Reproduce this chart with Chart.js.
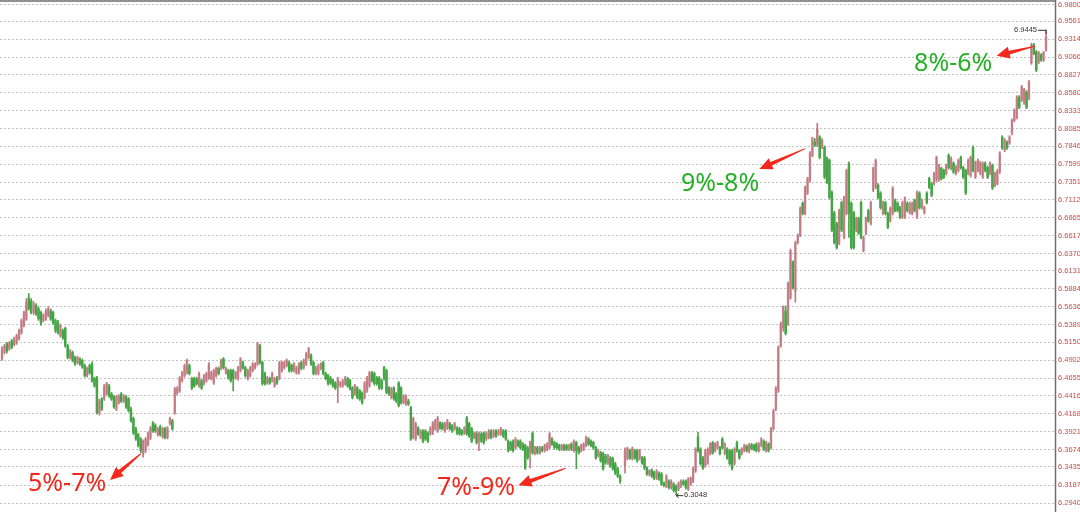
<!DOCTYPE html>
<html>
<head>
<meta charset="utf-8">
<script src="https://cdn.jsdelivr.net/npm/chart.js@4.4.1/dist/chart.umd.min.js"></script>
<style>
  html, body { margin: 0; padding: 0; background: #fff; }
  #wrap { width: 1080px; height: 512px; position: relative; }
</style>
</head>
<body>
<div id="wrap"><canvas id="c"></canvas></div>
<script>
// tick labels printed on the right axis
var yTicks = [6.9800, 6.9561, 6.9314, 6.9066, 6.8827, 6.8580, 6.8333, 6.8085, 6.7846, 6.7599,
              6.7351, 6.7112, 6.6865, 6.6617, 6.6370, 6.6131, 6.5884, 6.5636, 6.5389, 6.5150,
              6.4902, 6.4655, 6.4416, 6.4168, 6.3921, 6.3674, 6.3435, 6.3187, 6.2940]

// daily candles, [open, high, low, close]; null marks the holiday gap
var ohlcA = [
  [6.492,6.509,6.490,6.506],[6.501,6.512,6.499,6.510],[6.513,6.515,6.500,6.503],[6.506,6.516,6.504,6.514],
  [6.517,6.519,6.506,6.508],[6.512,6.522,6.510,6.520],[6.514,6.526,6.512,6.524],[6.520,6.533,6.518,6.531],
  [6.528,6.547,6.526,6.545],[6.538,6.558,6.536,6.556],[6.547,6.575,6.545,6.570],[6.576,6.582,6.559,6.561],
  [6.572,6.575,6.554,6.556],[6.556,6.571,6.553,6.568],[6.565,6.568,6.552,6.554],[6.561,6.564,6.545,6.547],
  [6.556,6.558,6.538,6.541],[6.545,6.554,6.543,6.552],[6.547,6.561,6.545,6.558],[6.552,6.564,6.550,6.561],
  [6.558,6.561,6.545,6.547],[6.556,6.558,6.540,6.542],[6.545,6.547,6.528,6.531],[6.542,6.545,6.526,6.528],
  [6.524,6.540,6.522,6.538],[6.531,6.533,6.519,6.521],[6.534,6.536,6.508,6.510],[6.510,6.512,6.492,6.494],
  [6.494,6.505,6.492,6.503],[6.501,6.503,6.488,6.490],[6.494,6.496,6.483,6.485],[6.487,6.496,6.485,6.494],
  [6.492,6.494,6.483,6.485],[6.490,6.492,6.479,6.481],[6.483,6.485,6.467,6.469],[6.469,6.481,6.467,6.479],
  [6.483,6.485,6.471,6.473],[6.485,6.488,6.460,6.462],[6.465,6.467,6.453,6.455],[6.466,6.468,6.416,6.418],
  [6.418,6.437,6.415,6.435],[6.437,6.439,6.421,6.423],[6.437,6.457,6.435,6.455],[6.444,6.460,6.442,6.458],
  [6.455,6.457,6.439,6.441],[6.444,6.446,6.435,6.437],[6.440,6.442,6.424,6.426],[6.423,6.442,6.421,6.440],
  [6.432,6.443,6.430,6.441],[6.444,6.446,6.432,6.434],[6.434,6.443,6.432,6.441],[6.440,6.442,6.424,6.426],
  [6.437,6.439,6.419,6.421],[6.423,6.426,6.405,6.407],[6.410,6.412,6.388,6.390],[6.396,6.398,6.380,6.382],
  [6.388,6.390,6.371,6.373],[6.382,6.384,6.363,6.366],[6.361,6.381,6.357,6.379],[6.366,6.384,6.363,6.382],
  [6.374,6.392,6.372,6.390],[6.383,6.399,6.381,6.397],[6.404,6.406,6.391,6.393],[6.401,6.403,6.391,6.393],
  [6.388,6.398,6.386,6.396],[6.399,6.401,6.386,6.388],[6.385,6.398,6.383,6.396],[6.396,6.398,6.382,6.384],
  [6.384,6.399,6.382,6.397],[6.403,6.412,6.401,6.410],[6.407,6.409,6.394,6.396],[6.418,6.453,6.416,6.451],
  [6.445,6.454,6.443,6.452],[6.448,6.468,6.446,6.466],[6.462,6.475,6.460,6.473],[6.469,6.485,6.467,6.483],
  [6.473,6.492,6.471,6.490],[6.483,6.485,6.470,6.472],[6.465,6.467,6.450,6.452],[6.465,6.467,6.453,6.455]
]
var ohlcB = [
  [6.465,6.467,6.456,6.458],[6.455,6.474,6.453,6.472],[6.462,6.464,6.450,6.452],[6.458,6.471,6.456,6.469],
  [6.462,6.474,6.460,6.472],[6.466,6.487,6.464,6.485],[6.465,6.475,6.463,6.473],[6.459,6.478,6.457,6.476],
  [6.469,6.481,6.467,6.479],[6.479,6.481,6.470,6.472],[6.479,6.492,6.477,6.490],[6.492,6.494,6.478,6.480],
  [6.473,6.481,6.471,6.479],[6.476,6.478,6.464,6.466],[6.476,6.478,6.460,6.462],[6.476,6.478,6.448,6.465],
  [6.466,6.475,6.464,6.473],[6.465,6.482,6.463,6.480],[6.476,6.494,6.474,6.492],[6.487,6.489,6.478,6.480],
  [6.480,6.482,6.467,6.469],[6.465,6.478,6.463,6.476],[6.469,6.482,6.467,6.480],[6.476,6.487,6.474,6.485],
  [6.480,6.487,6.478,6.485],[6.485,6.515,6.483,6.513],[6.510,6.512,6.485,6.487],[6.487,6.489,6.456,6.458],
  [6.472,6.474,6.456,6.458],[6.459,6.468,6.457,6.466],[6.465,6.467,6.457,6.459],[6.462,6.474,6.460,6.472],
  [6.455,6.467,6.453,6.465],[6.466,6.468,6.457,6.459],[6.465,6.489,6.463,6.487],[6.476,6.489,6.474,6.487],
  [6.480,6.489,6.478,6.487],[6.483,6.492,6.481,6.490],[6.487,6.489,6.474,6.476],[6.483,6.485,6.474,6.476],
  [6.476,6.487,6.474,6.485],[6.473,6.482,6.471,6.480],[6.473,6.487,6.471,6.485],[6.487,6.489,6.477,6.479],
  [6.480,6.492,6.478,6.490],[6.485,6.501,6.483,6.499],[6.494,6.508,6.492,6.506],[6.497,6.499,6.483,6.485],
  [6.487,6.489,6.470,6.472],[6.472,6.482,6.470,6.480],[6.472,6.485,6.470,6.483],[6.479,6.487,6.477,6.485],
  [6.487,6.489,6.470,6.472],[6.472,6.474,6.463,6.465],[6.469,6.471,6.456,6.458],[6.466,6.468,6.457,6.459],
  [6.462,6.464,6.453,6.455],[6.459,6.461,6.450,6.452],[6.455,6.467,6.432,6.465],[6.455,6.461,6.453,6.459],
  [6.455,6.464,6.453,6.462],[6.458,6.468,6.456,6.466],[6.465,6.467,6.453,6.455],[6.462,6.464,6.449,6.451],
  [6.452,6.454,6.437,6.439],[6.444,6.457,6.442,6.455],[6.452,6.454,6.437,6.439],[6.448,6.450,6.435,6.437],
  [6.445,6.447,6.430,6.432],[6.439,6.461,6.437,6.459],[6.448,6.468,6.446,6.466],[6.455,6.475,6.453,6.473],
  [6.473,6.475,6.460,6.462],[6.472,6.474,6.456,6.458],[6.466,6.468,6.456,6.458],[6.466,6.468,6.450,6.452],
  [6.462,6.464,6.450,6.452],[6.480,6.482,6.463,6.465],[6.476,6.478,6.444,6.446],[6.452,6.454,6.442,6.444],
  [6.439,6.453,6.437,6.451],[6.452,6.454,6.435,6.437],[6.444,6.446,6.432,6.434],[6.459,6.461,6.426,6.428],
  [6.452,6.454,6.430,6.432],[6.432,6.443,6.430,6.441],[6.430,6.443,6.428,6.441],[6.434,6.437,6.428,6.430]
]
var ohlcC = [
  [6.425,6.427,6.380,6.382],[6.384,6.412,6.382,6.410],[6.382,6.405,6.380,6.403],[6.397,6.399,6.387,6.389],
  [6.384,6.395,6.382,6.393],[6.393,6.395,6.377,6.379],[6.393,6.395,6.380,6.382],[6.390,6.392,6.377,6.379],
  [6.389,6.399,6.387,6.397],[6.390,6.406,6.388,6.404],[6.396,6.409,6.394,6.407],[6.393,6.413,6.391,6.411],
  [6.404,6.406,6.395,6.397],[6.403,6.405,6.394,6.396],[6.393,6.405,6.391,6.403],[6.397,6.409,6.395,6.407],
  [6.403,6.405,6.394,6.396],[6.400,6.402,6.391,6.393],[6.396,6.405,6.394,6.403],[6.397,6.399,6.388,6.390],
  [6.396,6.398,6.387,6.389],[6.393,6.395,6.387,6.389],[6.390,6.399,6.388,6.397],[6.411,6.413,6.387,6.389],
  [6.403,6.405,6.384,6.386],[6.396,6.398,6.377,6.379],[6.384,6.392,6.382,6.390],[6.390,6.392,6.375,6.377],
  [6.379,6.392,6.366,6.390],[6.389,6.391,6.377,6.379],[6.390,6.392,6.375,6.377],[6.382,6.392,6.380,6.390],
  [6.384,6.395,6.382,6.393],[6.393,6.395,6.382,6.384],[6.386,6.395,6.384,6.393],[6.393,6.395,6.384,6.386],
  [6.389,6.395,6.387,6.393],[6.389,6.398,6.387,6.396],[6.393,6.395,6.384,6.386],[6.393,6.395,6.380,6.382],
  [6.379,6.381,6.364,6.366],[6.377,6.379,6.366,6.368],[6.379,6.381,6.364,6.366],[6.370,6.384,6.368,6.382],
  [6.379,6.381,6.371,6.373],[6.379,6.381,6.368,6.370],[6.375,6.377,6.366,6.368],[6.373,6.375,6.340,6.342],
  [6.370,6.372,6.354,6.356],[6.363,6.379,6.342,6.377],[6.390,6.392,6.361,6.363],[6.362,6.372,6.360,6.370],
  [6.370,6.372,6.361,6.363],[6.363,6.372,6.361,6.370],[6.370,6.372,6.364,6.366],[6.366,6.375,6.364,6.373],
  [6.368,6.377,6.366,6.375],[6.370,6.391,6.368,6.389],[6.382,6.384,6.373,6.375],[6.377,6.379,6.368,6.370],
  [6.375,6.377,6.368,6.370],[6.373,6.375,6.366,6.368],[6.368,6.375,6.366,6.373],[6.373,6.375,6.366,6.368],
  [6.373,6.375,6.366,6.368],[6.368,6.375,6.366,6.373],[6.375,6.377,6.366,6.368],[6.366,6.381,6.364,6.379],
  [6.377,6.379,6.341,6.366],[6.370,6.372,6.361,6.363],[6.366,6.375,6.364,6.373],[6.368,6.377,6.366,6.375],
  [6.373,6.386,6.371,6.384],[6.382,6.384,6.373,6.375],[6.379,6.381,6.371,6.373],[6.377,6.379,6.368,6.370],
  [6.370,6.372,6.354,6.356],[6.359,6.368,6.357,6.366],[6.363,6.365,6.350,6.352],[6.362,6.364,6.339,6.341],
  [6.359,6.361,6.347,6.349],[6.349,6.361,6.347,6.359],[6.356,6.358,6.343,6.345],[6.355,6.357,6.339,6.341],
  [6.348,6.350,6.333,6.335],[6.341,6.343,6.329,6.331],[6.331,6.333,6.321,6.324],null
]
var ohlcD = [
  [6.345,6.370,6.335,6.366],[6.355,6.371,6.353,6.369],[6.366,6.368,6.354,6.356],[6.355,6.371,6.353,6.369],
  [6.366,6.368,6.354,6.356],[6.366,6.368,6.350,6.352],[6.355,6.368,6.353,6.366],[6.356,6.358,6.347,6.349],
  [6.356,6.358,6.340,6.342],[6.342,6.344,6.332,6.334],[6.333,6.340,6.331,6.338],[6.339,6.341,6.329,6.331],
  [6.336,6.338,6.326,6.328],[6.328,6.340,6.326,6.338],[6.335,6.337,6.325,6.327],[6.334,6.336,6.318,6.320],
  [6.321,6.323,6.316,6.318],[6.317,6.333,6.315,6.331],[6.324,6.326,6.313,6.315],[6.315,6.326,6.313,6.324],
  [6.320,6.322,6.309,6.311],[6.317,6.319,6.3048,6.311],[6.313,6.323,6.311,6.321],[6.317,6.326,6.315,6.324],
  [6.324,6.326,6.318,6.320],[6.324,6.326,6.313,6.315],[6.313,6.329,6.311,6.327],[6.320,6.330,6.318,6.328],
  [6.324,6.343,6.322,6.341],[6.338,6.370,6.336,6.368],[6.385,6.391,6.364,6.366],[6.368,6.370,6.346,6.348],
  [6.356,6.358,6.340,6.342],[6.345,6.368,6.343,6.366],[6.349,6.370,6.347,6.368],[6.362,6.377,6.360,6.375],
  [6.377,6.379,6.361,6.363],[6.366,6.377,6.364,6.375],[6.370,6.379,6.368,6.377],[6.370,6.372,6.360,6.362],
  [6.382,6.384,6.368,6.370],[6.362,6.377,6.360,6.375],[6.368,6.370,6.354,6.356],[6.366,6.368,6.346,6.348],
  [6.366,6.368,6.339,6.341],[6.348,6.370,6.346,6.368],[6.377,6.379,6.364,6.366],[6.366,6.368,6.354,6.356],
  [6.362,6.370,6.360,6.368],[6.366,6.375,6.364,6.373],[6.372,6.374,6.364,6.366],[6.365,6.376,6.363,6.374],
  [6.374,6.376,6.367,6.369],[6.373,6.375,6.366,6.368],[6.375,6.377,6.364,6.366],[6.366,6.377,6.364,6.375],
  [6.373,6.384,6.371,6.382],[6.379,6.381,6.366,6.368],[6.366,6.379,6.364,6.377],[6.375,6.377,6.364,6.366],
  [6.370,6.398,6.368,6.396],[6.396,6.423,6.394,6.421],[6.423,6.454,6.421,6.452],[6.448,6.510,6.446,6.508],
  [6.510,6.543,6.508,6.541],[6.535,6.565,6.530,6.563],[6.558,6.565,6.525,6.527],[6.540,6.598,6.538,6.596],
  [6.576,6.643,6.574,6.641],[6.625,6.627,6.588,6.590],[6.585,6.654,6.570,6.652],[6.652,6.664,6.650,6.662],
  [6.662,6.701,6.660,6.699],[6.706,6.708,6.690,6.692],[6.692,6.730,6.690,6.728],[6.720,6.742,6.718,6.740],
  [6.738,6.777,6.735,6.775],[6.772,6.797,6.770,6.795]
]
var ohlcE = [
  [6.790,6.795,6.784,6.786],[6.786,6.816,6.784,6.809],[6.797,6.799,6.767,6.769],[6.783,6.795,6.781,6.793],
  [6.783,6.785,6.740,6.742],[6.768,6.770,6.733,6.735],[6.765,6.767,6.712,6.714],[6.721,6.723,6.667,6.669],
  [6.693,6.695,6.650,6.652],[6.678,6.680,6.643,6.645],[6.651,6.698,6.649,6.696],[6.707,6.709,6.667,6.669],
  [6.659,6.716,6.657,6.714],[6.692,6.753,6.690,6.751],[6.761,6.763,6.659,6.692],[6.706,6.708,6.643,6.645],
  [6.693,6.695,6.643,6.645],[6.669,6.687,6.667,6.685],[6.685,6.687,6.663,6.665],[6.707,6.709,6.657,6.659],
  [6.641,6.661,6.639,6.659],[6.665,6.687,6.663,6.685],[6.696,6.698,6.680,6.682],[6.678,6.709,6.676,6.707],
  [6.724,6.756,6.722,6.754],[6.728,6.767,6.726,6.765],[6.731,6.733,6.712,6.714],[6.720,6.722,6.698,6.700],
  [6.692,6.709,6.690,6.707],[6.707,6.709,6.690,6.692],[6.692,6.694,6.671,6.673],[6.682,6.701,6.680,6.699],
  [6.692,6.729,6.690,6.727],[6.710,6.712,6.694,6.696],[6.706,6.708,6.694,6.696],[6.700,6.702,6.685,6.687],
  [6.687,6.709,6.685,6.707],[6.687,6.715,6.685,6.713],[6.706,6.708,6.694,6.696],[6.693,6.708,6.691,6.706],
  [6.692,6.708,6.690,6.706],[6.710,6.712,6.694,6.696],[6.687,6.723,6.685,6.721],[6.720,6.722,6.698,6.700],
  [6.700,6.712,6.698,6.710],[6.693,6.702,6.691,6.700],[6.720,6.722,6.705,6.707],[6.740,6.742,6.726,6.728],
  [6.733,6.735,6.715,6.717],[6.733,6.749,6.731,6.747],[6.738,6.771,6.736,6.769],[6.738,6.760,6.736,6.758],
  [6.754,6.756,6.738,6.740],[6.751,6.753,6.740,6.742],[6.747,6.760,6.745,6.758],[6.772,6.774,6.753,6.755],
  [6.754,6.770,6.752,6.768],[6.761,6.763,6.747,6.749],[6.747,6.758,6.745,6.756],[6.751,6.767,6.749,6.765],
  [6.769,6.771,6.753,6.755],[6.755,6.757,6.740,6.742],[6.751,6.753,6.718,6.720],[6.747,6.767,6.745,6.765],
  [6.744,6.771,6.742,6.769],[6.783,6.785,6.749,6.751],[6.742,6.764,6.740,6.762],[6.751,6.767,6.749,6.765],
  [6.747,6.764,6.745,6.762],[6.742,6.763,6.740,6.761],[6.761,6.763,6.749,6.751],[6.755,6.757,6.740,6.742],
  [6.747,6.763,6.745,6.761],[6.758,6.760,6.725,6.727],[6.731,6.749,6.729,6.747],[6.733,6.753,6.731,6.751],
  [6.749,6.777,6.747,6.775],[6.797,6.799,6.780,6.782],[6.779,6.795,6.777,6.793],[6.790,6.792,6.780,6.782],
  [6.789,6.799,6.787,6.797],[6.802,6.822,6.800,6.820],[6.820,6.836,6.818,6.834],[6.824,6.854,6.822,6.852],
  [6.852,6.854,6.836,6.838],[6.848,6.868,6.846,6.866],[6.844,6.864,6.842,6.862],[6.859,6.861,6.836,6.838],
  [6.850,6.875,6.848,6.873],[6.899,6.926,6.897,6.924],[6.924,6.926,6.910,6.912],[6.914,6.916,6.887,6.889],
  [6.900,6.915,6.898,6.913],[6.910,6.912,6.901,6.903],[6.903,6.915,6.901,6.913],[6.917,6.9445,6.915,6.935]
]

// callouts, placed in data units: x = candle index, y = price
var noteTexts  = ["5%-7%", "7%-9%", "9%-8%", "8%-6%"]
var noteColors = ["#f3291d", "#f3291d", "#25b125", "#25b125"]
var notePos    = [[10.7, 6.3105], [178.7, 6.3050], [279.0, 6.7224], [374.8, 6.8877]]
var arrowTail  = [[57.0, 6.3617], [231.6, 6.3418], [330.0, 6.7812], [424.5, 6.9221]]
var arrowHead  = [[44.4, 6.3257], [212.2, 6.3184], [311.2, 6.7531], [408.7, 6.9088]]

var UP_BODY = "#d09aa0", UP_WICK = "#c07a82"
var DN_BODY = "#33a036", DN_WICK = "#4aa54a"
var FONT = "'Liberation Sans', Arial, sans-serif"

var candles = [].concat(ohlcA, ohlcB, ohlcC, ohlcD, ohlcE)
var wicks = [], bodies = []
candles.forEach(function(r, i) {
  if (!r) return
  var up = r[3] >= r[0]
  wicks.push({x: i, y: [r[2], r[1]], up: up})
  bodies.push({x: i, y: [r[0], r[3]], up: up})
})

function arrow(ctx, x0, y0, x1, y1) {
  var dx = x1 - x0, dy = y1 - y0, len = Math.sqrt(dx * dx + dy * dy)
  var ux = dx / len, uy = dy / len, px = -uy, py = ux
  var head = 13, bx = x1 - ux * head, by = y1 - uy * head
  ctx.beginPath()
  ctx.moveTo(x0 + px * 0.5, y0 + py * 0.5)
  ctx.lineTo(bx + px * 2, by + py * 2)
  ctx.lineTo(bx + px * 6, by + py * 6)
  ctx.lineTo(x1, y1)
  ctx.lineTo(bx - px * 6, by - py * 6)
  ctx.lineTo(bx - px * 2, by - py * 2)
  ctx.lineTo(x0 - px * 0.5, y0 - py * 0.5)
  ctx.closePath()
  ctx.fill()
}

var extras = {
  id: "extras",
  afterDraw: function(chart) {
    var ctx = chart.ctx, xs = chart.scales.x, ys = chart.scales.y, area = chart.chartArea
    ctx.save()
    // frame: top rule and right axis line
    ctx.strokeStyle = "#6e6e6e"
    ctx.lineWidth = 1.5
    ctx.beginPath()
    ctx.moveTo(area.left, 1)
    ctx.lineTo(area.right, 1)
    ctx.moveTo(area.right + 0.5, 0)
    ctx.lineTo(area.right + 0.5, chart.height)
    ctx.stroke()

    // price labels on the right axis, one per tick of the y scale
    ctx.font = "7.5px " + FONT
    ctx.fillStyle = "#c0504d"
    ctx.textAlign = "left"
    ctx.textBaseline = "middle"
    ys.ticks.forEach(function(t) {
      ctx.fillText(t.value.toFixed(4), area.right + 3, Math.max(ys.getPixelForValue(t.value), 5))
    })

    // highest high / lowest low markers
    var hi = -1, lo = -1
    candles.forEach(function(r, i) {
      if (!r) return
      if (hi < 0 || r[1] > candles[hi][1]) hi = i
      if (lo < 0 || r[2] < candles[lo][2]) lo = i
    })
    ctx.fillStyle = "#333"
    ctx.strokeStyle = "#333"
    ctx.lineWidth = 1
    var hx = xs.getPixelForValue(hi), hy = ys.getPixelForValue(candles[hi][1])
    ctx.textAlign = "right"
    ctx.fillText(candles[hi][1].toFixed(4), hx - 9, hy)
    ctx.beginPath()
    ctx.moveTo(hx - 8, hy + 0.5)
    ctx.lineTo(hx, hy + 0.5)
    ctx.lineTo(hx, hy + 4)
    ctx.stroke()
    var lx = xs.getPixelForValue(lo), ly = ys.getPixelForValue(candles[lo][2])
    ctx.textAlign = "left"
    ctx.fillText(candles[lo][2].toFixed(4), lx + 8, ly)
    ctx.beginPath()
    ctx.moveTo(lx, ly + 0.5)
    ctx.lineTo(lx + 7, ly + 0.5)
    ctx.moveTo(lx, ly + 0.5)
    ctx.lineTo(lx + 2.5, ly - 1.5)
    ctx.moveTo(lx, ly + 0.5)
    ctx.lineTo(lx + 2.5, ly + 2.5)
    ctx.stroke()

    // red arrows and rate-range labels
    ctx.fillStyle = "#f3291d"
    for (var i = 0; i < arrowTail.length; i++) {
      arrow(ctx,
        xs.getPixelForValue(arrowTail[i][0]), ys.getPixelForValue(arrowTail[i][1]),
        xs.getPixelForValue(arrowHead[i][0]), ys.getPixelForValue(arrowHead[i][1]))
    }
    ctx.font = "25px 'Noto Sans', " + FONT
    ctx.textAlign = "left"
    ctx.textBaseline = "alphabetic"
    noteTexts.forEach(function(t, i) {
      ctx.fillStyle = noteColors[i]
      ctx.fillText(t, xs.getPixelForValue(notePos[i][0]), ys.getPixelForValue(notePos[i][1]))
    })
    ctx.restore()
  }
}

new Chart(document.getElementById("c"), {
  type: "bar",
  data: {
    datasets: [
      { data: wicks, grouped: false, barThickness: 1,
        backgroundColor: function(c) { return c.raw && c.raw.up ? UP_WICK : DN_WICK } },
      { data: bodies, grouped: false, barThickness: 1.8, minBarLength: 1,
        backgroundColor: function(c) { return c.raw && c.raw.up ? UP_BODY : DN_BODY } }
    ]
  },
  options: {
    animation: false,
    responsive: true,
    maintainAspectRatio: false,
    layout: { padding: { top: 4, bottom: 9, left: 0, right: 0 } },
    plugins: { legend: { display: false }, tooltip: { enabled: false } },
    scales: {
      x: { type: "linear", offset: false, min: -0.822, max: 432.69, display: false },
      y: {
        position: "right",
        min: 6.294,
        max: 6.98,
        afterBuildTicks: function(s) { s.ticks = yTicks.map(function(v) { return {value: v} }) },
        afterFit: function(s) { s.width = 25 },
        grid: { color: "#c2c2c2", drawTicks: false, lineWidth: 1 },
        border: { display: false, dash: [2, 2] },
        ticks: { display: false }
      }
    }
  },
  plugins: [extras]
})
</script>
</body>
</html>
